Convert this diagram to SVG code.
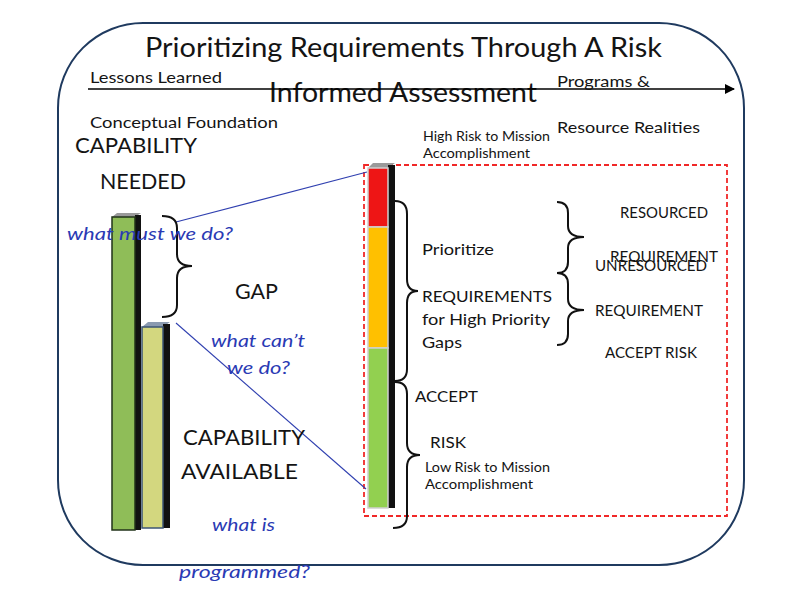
<svg xmlns="http://www.w3.org/2000/svg" width="800" height="600" viewBox="0 0 800 600">
<defs>
<style>
text{font-family:Lato,"Open Sans","Liberation Sans",sans-serif;fill:#141414}
.t{font-size:26px}
.m{font-size:16px}
.s{font-size:13px}
.b{font-size:21px}
.q{font-size:17px;font-style:italic;fill:#2a3ab4}
.r{font-size:16px}
.rr{font-size:14.5px}
.brace{fill:none;stroke:#111;stroke-width:2}
.blue{stroke:#3040b0;stroke-width:1.1;fill:none}
</style>
<marker id="ah" markerWidth="10" markerHeight="10" refX="9" refY="5" orient="auto" markerUnits="userSpaceOnUse" viewBox="0 0 10 10">
<path d="M0,0 L10,5 L0,10 Z" fill="#000"/>
</marker>
</defs>
<rect width="800" height="600" fill="#fff"/>
<rect id="frame" x="58" y="23" width="686" height="542" rx="85" ry="85" fill="none" stroke="#1f3a5f" stroke-width="2"/>
<rect id="riskbox" x="364" y="165" width="363" height="351" fill="none" stroke="#f02828" stroke-width="1.8" stroke-dasharray="5,3"/>

<g id="title">
<text class="t" x="145" y="57" textLength="517" lengthAdjust="spacingAndGlyphs">Prioritizing Requirements Through A Risk</text>
<text class="t" x="269" y="102" textLength="268" lengthAdjust="spacingAndGlyphs">Informed Assessment</text>
</g>

<g id="connectors">
<line x1="88" y1="89" x2="734" y2="89" stroke="#000" stroke-width="1.5" marker-end="url(#ah)"/>
<line class="blue" x1="176" y1="222" x2="367" y2="172"/>
<line class="blue" x1="176" y1="323" x2="366" y2="489"/>
</g>

<g id="timeline-labels">
<text class="m" x="90" y="83" textLength="132" lengthAdjust="spacingAndGlyphs">Lessons Learned</text>
<text class="m" x="90" y="128" textLength="188" lengthAdjust="spacingAndGlyphs">Conceptual Foundation</text>
<text class="m" x="557" y="87" textLength="93" lengthAdjust="spacingAndGlyphs">Programs &amp;</text>
<text class="m" x="557" y="133" textLength="143" lengthAdjust="spacingAndGlyphs">Resource Realities</text>
</g>

<g id="capability-needed">
<text class="b" x="75" y="153" textLength="122" lengthAdjust="spacingAndGlyphs">CAPABILITY</text>
<text class="b" x="100" y="189" textLength="86" lengthAdjust="spacingAndGlyphs">NEEDED</text>
</g>

<g id="bar-needed">
<polygon points="112,217 135,217 141,213 117,213" fill="#9a9a9a"/>
<rect x="135" y="215" width="6" height="315" fill="#111"/>
<rect x="112" y="217" width="23" height="313" fill="#8fbd58" stroke="#22331a" stroke-width="1.5"/>
</g>

<g id="bar-available">
<polygon points="142,327 163,327 170,322 148,322" fill="#8a9ab0"/>
<rect x="163" y="324" width="7" height="204" fill="#111"/>
<rect x="142" y="327" width="21" height="201" fill="#d3d77f" stroke="#3d5575" stroke-width="1.5"/>
</g>

<g id="gap">
<path class="brace" d="M162,216 Q177,216 177,228 L177,254 Q177,266 192,266 Q177,266 177,278 L177,305 Q177,317 162,317"/>
<text class="b" x="235" y="299" textLength="43" lengthAdjust="spacingAndGlyphs">GAP</text>
</g>

<g id="questions">
<text class="q" x="67" y="240" textLength="166" lengthAdjust="spacingAndGlyphs">what must we do?</text>
<text class="q" x="211" y="347" textLength="94" lengthAdjust="spacingAndGlyphs">what can’t</text>
<text class="q" x="227" y="374" textLength="63" lengthAdjust="spacingAndGlyphs">we do?</text>
<text class="q" x="212" y="531" textLength="63" lengthAdjust="spacingAndGlyphs">what is</text>
<text class="q" x="179" y="578" textLength="131" lengthAdjust="spacingAndGlyphs">programmed?</text>
</g>

<g id="capability-available">
<text class="b" x="183" y="445" textLength="122" lengthAdjust="spacingAndGlyphs">CAPABILITY</text>
<text class="b" x="181" y="479" textLength="117" lengthAdjust="spacingAndGlyphs">AVAILABLE</text>
</g>

<g id="risk-bar">
<polygon points="368,168 388,168 395,163 373,163" fill="#9a9a9a"/>
<rect x="388" y="165" width="7" height="343" fill="#111"/>
<rect x="368" y="168" width="20" height="59" fill="#ee1515" stroke="#d0d0d0" stroke-width="1.5"/>
<rect x="368" y="227" width="20" height="121" fill="#ffc000" stroke="#d0d0d0" stroke-width="1.5"/>
<rect x="368" y="348" width="20" height="160" fill="#92d050" stroke="#d0d0d0" stroke-width="1.5"/>
</g>

<g id="risk-labels">
<text class="s" x="423" y="141" textLength="127" lengthAdjust="spacingAndGlyphs">High Risk to Mission</text>
<text class="s" x="423" y="158" textLength="107" lengthAdjust="spacingAndGlyphs">Accomplishment</text>
<text class="s" x="425" y="472" textLength="125" lengthAdjust="spacingAndGlyphs">Low Risk to Mission</text>
<text class="s" x="425" y="489" textLength="108" lengthAdjust="spacingAndGlyphs">Accomplishment</text>
</g>

<g id="prioritize">
<path class="brace" d="M395,201 Q407,201 407,214 L407,279 Q407,291 418,291 Q407,291 407,303 L407,369 Q407,381 395,381"/>
<text class="r" x="422" y="255" textLength="72" lengthAdjust="spacingAndGlyphs">Prioritize</text>
<text class="r" x="422" y="302" textLength="130" lengthAdjust="spacingAndGlyphs">REQUIREMENTS</text>
<text class="r" x="422" y="325" textLength="128" lengthAdjust="spacingAndGlyphs">for High Priority</text>
<text class="r" x="422" y="348" textLength="40" lengthAdjust="spacingAndGlyphs">Gaps</text>
</g>

<g id="accept">
<path class="brace" d="M395,382 Q407,382 407,394 L407,443 Q407,455 420,455 Q407,455 407,467 L407,516 Q407,528 393,528"/>
<text class="r" x="415" y="402" textLength="63" lengthAdjust="spacingAndGlyphs">ACCEPT</text>
<text class="r" x="430" y="448" textLength="36" lengthAdjust="spacingAndGlyphs">RISK</text>
</g>

<g id="resourced">
<path class="brace" d="M557,202 Q568,202 568,213 L568,226 Q568,237 584,237 Q568,237 568,248 L568,262 Q568,273 557,273"/>
<text class="rr" x="620" y="218" textLength="88" lengthAdjust="spacingAndGlyphs">RESOURCED</text>
<text class="rr" x="610" y="262" textLength="108" lengthAdjust="spacingAndGlyphs">REQUIREMENT</text>
</g>

<g id="unresourced">
<path class="brace" d="M557,273 Q568,273 568,284 L568,299 Q568,310 584,310 Q568,310 568,321 L568,334 Q568,345 557,345"/>
<text class="rr" x="595" y="271" textLength="112" lengthAdjust="spacingAndGlyphs">UNRESOURCED</text>
<text class="rr" x="595" y="316" textLength="108" lengthAdjust="spacingAndGlyphs">REQUIREMENT</text>
</g>

<g id="accept-risk">
<text class="rr" x="605" y="358" textLength="92" lengthAdjust="spacingAndGlyphs">ACCEPT RISK</text>
</g>
</svg>
